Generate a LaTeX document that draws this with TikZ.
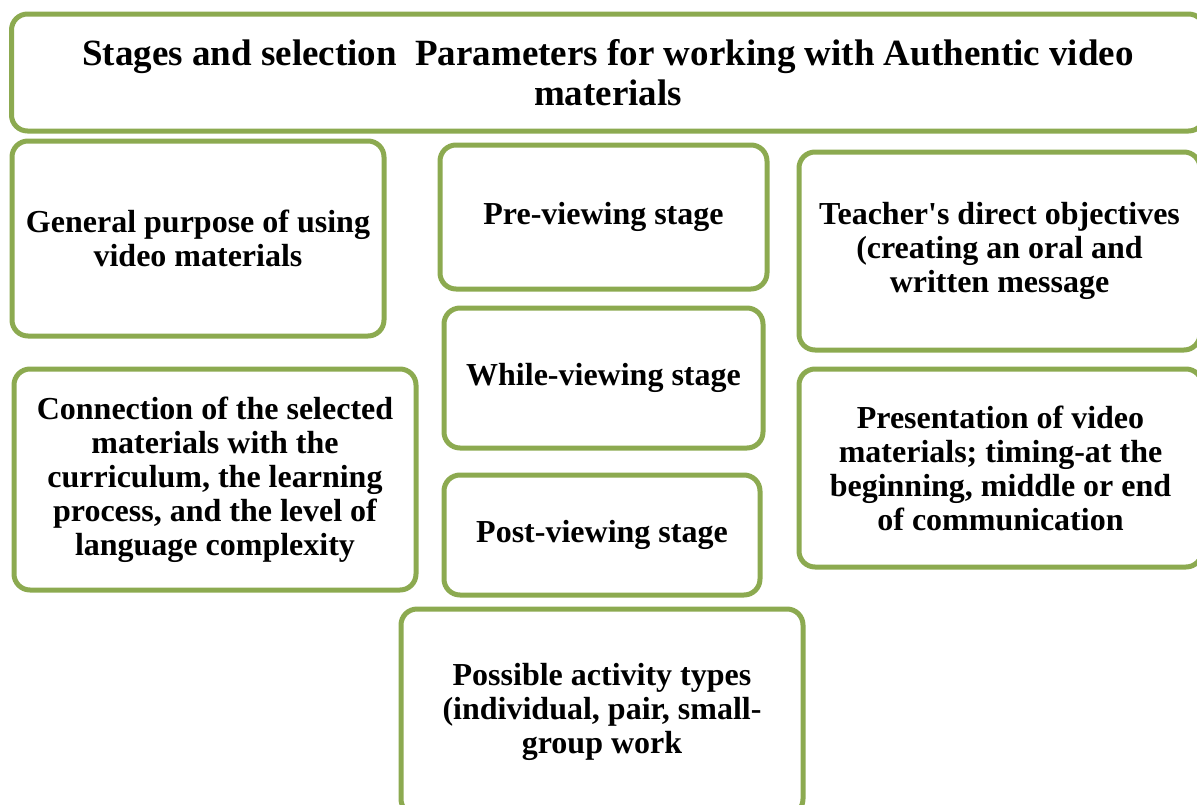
\documentclass[tikz,border=0pt]{standalone}
\usepackage{fontspec}
\setmainfont{Liberation Serif}[Ligatures=TeXOff]
\definecolor{olivegreen}{RGB}{140,170,80}

\begin{document}
\begin{tikzpicture}[
        x=1pt, y=-1pt,
        font=\bfseries\fontsize{32}{34}\selectfont,
        stagebox/.style={
            draw=olivegreen,
            line width=5pt,
            rounded corners=16pt,
            fill=white,
            align=center,
            inner sep=0pt
        }
    ]

    \useasboundingbox (0,0) rectangle (1197,804);

    % Title
    \node[stagebox, minimum width=1193pt, minimum height=117pt,
          font=\bfseries\fontsize{37}{40}\selectfont] (title) at (608,72.5)
        {Stages and selection\ \ Parameters for working with Authentic video\\materials};

    % Left column
    \node[stagebox, minimum width=372pt, minimum height=195pt] (purpose) at (198,238.5)
        {General purpose of using\\video materials};
    \node[stagebox, minimum width=402pt, minimum height=221pt] (connection) at (215,479.5)
        {Connection of the selected\\materials with the\\curriculum, the learning\\process, and the level of\\language complexity};

    % Middle column: the stages
    \node[stagebox, minimum width=327pt, minimum height=144pt] (pre) at (603.5,217)
        {Pre-viewing stage};
    \node[stagebox, minimum width=319pt, minimum height=140pt] (while) at (603.5,378)
        {While-viewing stage};
    \node[stagebox, minimum width=316pt, minimum height=120pt] (post) at (602,535)
        {Post-viewing stage};
    \node[stagebox, minimum width=402pt, minimum height=206pt] (activity) at (602,712)
        {Possible activity types\\(individual, pair, small-\\group work};

    % Right column
    \node[stagebox, minimum width=401pt, minimum height=198pt] (objectives) at (999.5,251)
        {Teacher's direct objectives\\(creating an oral and\\written message};
    \node[stagebox, minimum width=403pt, minimum height=198pt] (presentation) at (1000.5,468)
        {Presentation of video\\materials; timing-at the\\beginning, middle or end\\of communication};

\end{tikzpicture}
\end{document}
